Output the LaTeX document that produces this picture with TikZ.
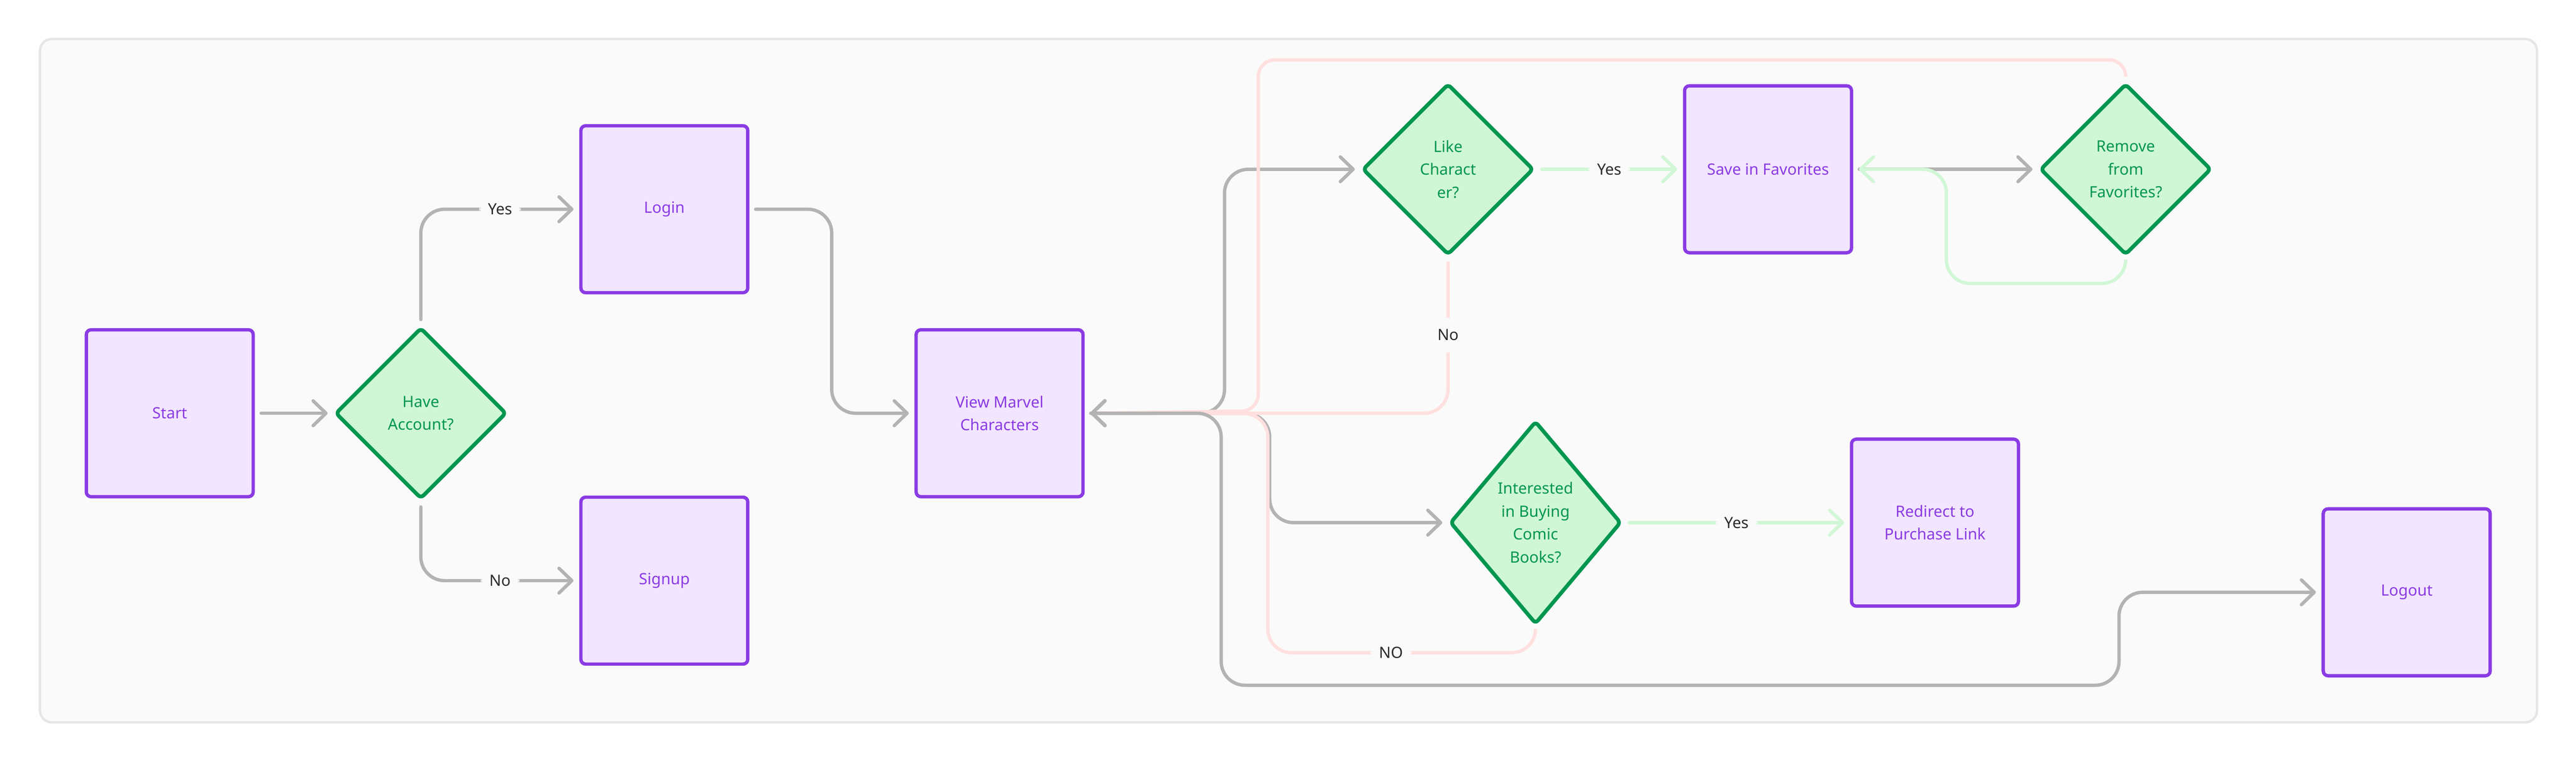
\documentclass[tikz,border=0pt]{standalone}
\usepackage{fontspec}
\setmainfont{Noto Sans}
\usetikzlibrary{positioning, shapes.geometric, arrows.meta, calc}

\definecolor{boxline}{HTML}{8A3BE3}
\definecolor{boxfill}{HTML}{F2E5FF}
\definecolor{decline}{HTML}{00964F}
\definecolor{decfill}{HTML}{CFF7D3}
\definecolor{greyline}{HTML}{B3B3B3}
\definecolor{pinkline}{HTML}{FFE0DE}
\definecolor{mintline}{HTML}{D1F7D6}
\definecolor{panelfill}{HTML}{FAFAFA}
\definecolor{panelline}{HTML}{E6E6E6}
\definecolor{labeltext}{HTML}{2B2B2B}

\begin{document}
\begin{tikzpicture}[
  >={Straight Barb[length=0.27cm, width=0.52cm, round]},
  every node/.style={font=\fontsize{9.3}{13.7}\selectfont},
  stepbox/.style={draw=boxline, fill=boxfill, text=boxline, line width=0.07cm, rounded corners=0.1cm,
    minimum width=3.51cm, minimum height=3.51cm, align=center, inner sep=0pt},
  decision/.style={diamond, aspect=1, draw=decline, fill=decfill, text=decline, line width=0.08cm,
    rounded corners=0.08cm, minimum width=3.60cm, minimum height=3.60cm, align=center, inner sep=0pt},
  link/.style={->, draw=greyline, line width=0.07cm, line cap=round, rounded corners=0.5cm,
    shorten <=0.13cm, shorten >=0.12cm},
  yeslink/.style={link, draw=mintline},
  backlink/.style={link, draw=pinkline, -{Straight Barb[length=0.27cm, width=0.52cm, round, color=greyline]}},
  lbl/.style={fill=panelfill, text=labeltext, inner xsep=0.18cm, inner ysep=0.25cm}
]
\useasboundingbox (0,0) rectangle (54.17,16.02);
% Panel
\draw[panelline, fill=panelfill, line width=0.05cm, rounded corners=0.25cm] (0.84,0.83) rectangle (53.35,15.20);

% Login part
\node[stepbox] (start) at (3.57, 7.33) {Start};
\node[decision] (have) at (8.85, 7.33) {Have\\Account?};
\node[stepbox] (login) at (13.97, 11.62) {Login};
\node[stepbox] (signup) at (13.97, 3.81) {Signup};

% Browsing part
\node[stepbox] (vm) at (21.02, 7.33) {View Marvel\\Characters};
\node[decision] (like) at (30.45, 12.46) {Like\\Charact\\er?};
\node[stepbox] (save) at (37.18, 12.46) {Save in Favorites};
\node[decision] (rem) at (44.70, 12.46) {Remove\\from\\Favorites?};
\node[decision, minimum height=4.27cm] (int) at (32.29, 5.03) {Interested\\in Buying\\Comic\\Books?};
\node[stepbox] (red) at (40.69, 5.03) {Redirect to\\Purchase Link};
\node[stepbox] (logout) at (50.61, 3.565) {Logout};

% Connectors
\draw[link] (start.east) -- (have.west);
\draw[link] (have.north) |- node[lbl, pos=0.75] {Yes} (login.west);
\draw[link] (have.south) |- node[lbl, pos=0.75] {No} (signup.west);
\draw[link] (login.east) -- ++(1.73,0) |- (vm.west);

\draw[link] (vm.east) -- ++(2.94,0) |- (like.west);
\draw[link] (vm.east) -- ++(3.89,0) |- (int.west);

% Back to the list
\draw[backlink] (like.south) -- node[lbl] {No} (like.south |- vm.east) -- (vm.east);
\draw[backlink, rounded corners=0.35cm] (rem.north) -- ++(0,0.46) -| ++(-18.24,-7.38) -- (vm.east);
\draw[backlink] (int.south) -- ++(0,-0.56) -| node[lbl, pos=0.27] {NO} ++(-5.63,5.03) -- (vm.east);

\draw[link] (vm.east) -- ++(2.87,0) |- ++(18.88,-5.72) |- (logout.west);

% Favorites and buying
\draw[yeslink] (like.east) -- node[lbl] {Yes} (save.west);
\draw[link] (save.east) -- (rem.west);
\draw[yeslink] (rem.south) -- ++(0,-0.56) -| ++(-3.77,2.40) -- (save.east);
\draw[yeslink] (int.east) -- node[lbl] {Yes} (red.west);

\end{tikzpicture}
\end{document}
